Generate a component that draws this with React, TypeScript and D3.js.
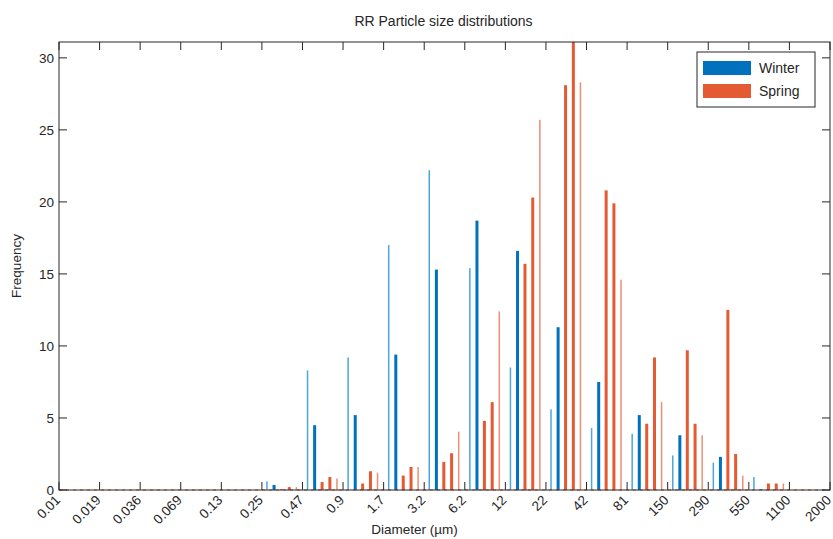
import { useEffect, useRef } from "react";
import * as d3 from "d3";

// tick labels (one per 6 bin slots)
const tickLabels = ["0.01", "0.019", "0.036", "0.069", "0.13", "0.25", "0.47", "0.9", "1.7", "3.2", "6.2", "12", "22", "42", "81", "150", "290", "550", "1100", "2000"];

// per tick interval: two winter bins, then three spring bins
const winter = [
  [0, 0], [0, 0], [0, 0], [0, 0], [0, 0], [0.6, 0.35], [8.3, 4.5], [9.2, 5.2], [17.0, 9.4], [22.2, 15.3],
  [15.4, 18.7], [8.5, 16.6], [5.6, 11.3], [4.3, 7.5], [3.9, 5.2], [2.4, 3.8], [1.9, 2.3], [0.9, 0.05], [0, 0],
];
const spring = [
  [0, 0, 0], [0, 0, 0], [0, 0, 0], [0, 0, 0], [0, 0, 0], [0.05, 0.2, 0.2], [0.55, 0.9, 0.8], [0.45, 1.3, 1.2],
  [1.0, 1.6, 1.6], [1.95, 2.55, 4.05], [4.8, 6.1, 12.4], [15.7, 20.3, 25.7], [28.1, 32, 28.3], [20.8, 19.9, 14.6],
  [4.6, 9.2, 6.1], [9.7, 4.6, 3.8], [12.5, 2.5, 1.0], [0.45, 0.45, 0.45], [0, 0, 0],
];
const yTicks = [0, 5, 10, 15, 20, 25, 30];

const W = 833, H = 539;
const M = { left: 59, right: 3, top: 42, bottom: 49 };

export default function App() {
  const ref = useRef<SVGSVGElement>(null);

  useEffect(() => {
    const svg = d3.select(ref.current);
    svg.selectAll("*").remove();
    const x0 = M.left, x1 = W - M.right, y0 = H - M.bottom, y1 = M.top;
    const slots = (tickLabels.length - 1) * 6;
    const x = d3.scaleLinear().domain([0, slots]).range([x0, x1]);
    const y = d3.scaleLinear().domain([0, 31.1]).range([y0, y1]);
    const font = "Arial, 'Liberation Sans', sans-serif";

    svg.append("rect").attr("width", W).attr("height", H).attr("fill", "#fff");
    svg.append("defs").append("clipPath").attr("id", "clip")
      .append("rect").attr("x", x0).attr("y", y1).attr("width", x1 - x0).attr("height", y0 - y1);

    type Bar = { slot: number; v: number; color: string; w: number };
    const bars: Bar[] = [];
    winter.forEach((p, k) => {
      bars.push({ slot: k * 6 + 0.75, v: p[0], color: "#4da6dc", w: 1.5 });
      bars.push({ slot: k * 6 + 1.8, v: p[1], color: "#0072bd", w: 3 });
    });
    spring.forEach((p, k) => {
      bars.push({ slot: k * 6 + 2.9, v: p[0], color: "#e45a33", w: 3 });
      bars.push({ slot: k * 6 + 4.05, v: p[1], color: "#e45a33", w: 3 });
      bars.push({ slot: k * 6 + 5.1, v: p[2], color: "#ec8f75", w: 1.5 });
    });
    svg.append("g").attr("clip-path", "url(#clip)")
      .selectAll("rect").data(bars.filter((b) => b.v > 0)).join("rect")
      .attr("x", (d) => x(d.slot) - d.w / 2)
      .attr("width", (d) => d.w)
      .attr("y", (d) => y(d.v))
      .attr("height", (d) => y0 - y(d.v))
      .attr("fill", (d) => d.color);

    // baseline line
    svg.append("line").attr("x1", x0).attr("x2", x1).attr("y1", y0).attr("y2", y0)
      .attr("stroke", "#e45a33").attr("stroke-width", 1).attr("stroke-dasharray", "3,4");

    const ax = svg.append("g").attr("stroke", "#262626").attr("stroke-width", 1).attr("fill", "none");
    ax.append("rect").attr("x", x0).attr("y", y1).attr("width", x1 - x0).attr("height", y0 - y1);
    tickLabels.forEach((_, i) => {
      const xx = x(i * 6);
      ax.append("line").attr("x1", xx).attr("x2", xx).attr("y1", y0).attr("y2", y0 - 8);
      ax.append("line").attr("x1", xx).attr("x2", xx).attr("y1", y1).attr("y2", y1 + 8);
    });
    yTicks.forEach((t) => {
      ax.append("line").attr("x1", x0).attr("x2", x0 + 8).attr("y1", y(t)).attr("y2", y(t));
      ax.append("line").attr("x1", x1).attr("x2", x1 - 8).attr("y1", y(t)).attr("y2", y(t));
    });

    const txt = svg.append("g").attr("font-family", font).attr("fill", "#262626");
    yTicks.forEach((t) => {
      txt.append("text").attr("x", x0 - 5).attr("y", y(t) + 5).attr("text-anchor", "end")
        .attr("font-size", 13.5).text(t);
    });
    tickLabels.forEach((l, i) => {
      const xx = x(i * 6);
      txt.append("text").attr("transform", `translate(${xx + 2},${y0 + 11}) rotate(-45)`)
        .attr("text-anchor", "end").attr("font-size", 13.5).text(l);
    });
    txt.append("text").attr("x", (x0 + x1) / 2 - 30).attr("y", 534).attr("text-anchor", "middle")
      .attr("font-size", 13.5).text("Diameter (µm)");
    txt.append("text").attr("transform", `translate(21,${(y0 + y1) / 2}) rotate(-90)`)
      .attr("text-anchor", "middle").attr("font-size", 13.5).text("Frequency");
    txt.append("text").attr("x", (x0 + x1) / 2 - 1).attr("y", 26).attr("text-anchor", "middle")
      .attr("font-size", 14).text("RR Particle size distributions");

    // legend
    const lg = svg.append("g").attr("transform", "translate(697,52)");
    lg.append("rect").attr("width", 118).attr("height", 55).attr("fill", "#fff").attr("stroke", "#262626");
    [["Winter", "#0072bd"], ["Spring", "#e45a33"]].forEach(([name, c], i) => {
      lg.append("rect").attr("x", 6).attr("y", 9 + i * 23).attr("width", 48).attr("height", 14).attr("fill", c);
      lg.append("text").attr("x", 62).attr("y", 21 + i * 23).attr("font-family", font)
        .attr("font-size", 14).attr("fill", "#262626").text(name);
    });
  }, []);

  return <svg ref={ref} width={W} height={H} style={{ display: "block", position: "absolute", left: 0, top: 0 }} />;
}
